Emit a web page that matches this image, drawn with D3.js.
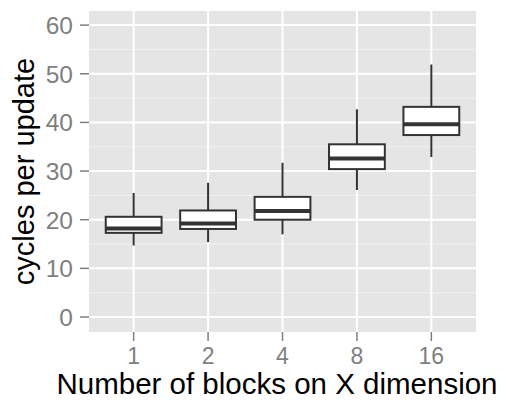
<!DOCTYPE html>
<html><head><meta charset="utf-8">
<script src="https://cdn.jsdelivr.net/npm/d3@7"></script>
<style>body{margin:0;background:#fff}svg{display:block}text{font-family:"Liberation Sans",Arial,sans-serif}</style>
</head><body><svg id="c" width="507" height="400"></svg>
<script>
const categories = ["1","2","4","8","16"];
const whiskerLow = [14.7, 15.4, 17.0, 26.1, 32.9];
const q1 = [17.3, 18.1, 20.0, 30.4, 37.4];
const median = [18.2, 19.2, 21.8, 32.6, 39.6];
const q3 = [20.6, 21.9, 24.7, 35.5, 43.2];
const whiskerHigh = [25.5, 27.6, 31.7, 42.7, 51.9];
const yTicks = [0, 10, 20, 30, 40, 50, 60];
const yMinor = [5, 15, 25, 35, 45, 55];
const xTitle = "Number of blocks on X dimension";
const yTitle = "cycles per update";

const svg = d3.select("#c");
const L = 89, R = 476, T = 11, B = 332;
// ggplot discrete expansion: 0.6 units each side
const x = d3.scalePoint().domain(categories).range([L, R]).padding(0.6);
const step = x.step();
const xc = c => x(c);
const y = d3.scaleLinear().domain([-3.08, 62.9]).range([B, T]);

svg.append("rect").attr("x", L).attr("y", T).attr("width", R - L).attr("height", B - T).attr("fill", "#e5e5e5");
const g = svg.append("g");
g.selectAll(".minor").data(yMinor).join("line")
  .attr("x1", L).attr("x2", R).attr("y1", d => y(d)).attr("y2", d => y(d))
  .attr("stroke", "#f2f2f2").attr("stroke-width", 1);
g.selectAll(".majory").data(yTicks).join("line")
  .attr("x1", L).attr("x2", R).attr("y1", d => y(d)).attr("y2", d => y(d))
  .attr("stroke", "#ffffff").attr("stroke-width", 2);
g.selectAll(".majorx").data(categories).join("line")
  .attr("x1", d => xc(d)).attr("x2", d => xc(d)).attr("y1", T).attr("y2", B)
  .attr("stroke", "#ffffff").attr("stroke-width", 2);

const bw = step * 0.75;
const data = categories.map((c, i) => ({c, lo: whiskerLow[i], q1: q1[i], md: median[i], q3: q3[i], hi: whiskerHigh[i]}));
const bx = svg.append("g").selectAll("g").data(data).join("g");
bx.append("line").attr("x1", d => xc(d.c)).attr("x2", d => xc(d.c))
  .attr("y1", d => y(d.hi)).attr("y2", d => y(d.q3)).attr("stroke", "#333333").attr("stroke-width", 2);
bx.append("line").attr("x1", d => xc(d.c)).attr("x2", d => xc(d.c))
  .attr("y1", d => y(d.q1)).attr("y2", d => y(d.lo)).attr("stroke", "#333333").attr("stroke-width", 2);
bx.append("rect").attr("x", d => xc(d.c) - bw / 2).attr("width", bw)
  .attr("y", d => y(d.q3)).attr("height", d => y(d.q1) - y(d.q3))
  .attr("fill", "#ffffff").attr("stroke", "#333333").attr("stroke-width", 2);
bx.append("line").attr("x1", d => xc(d.c) - bw / 2).attr("x2", d => xc(d.c) + bw / 2)
  .attr("y1", d => y(d.md)).attr("y2", d => y(d.md)).attr("stroke", "#333333").attr("stroke-width", 4);

// axes
const ya = svg.append("g");
ya.selectAll("line").data(yTicks).join("line")
  .attr("x1", L - 9).attr("x2", L).attr("y1", d => y(d)).attr("y2", d => y(d))
  .attr("stroke", "#7f7f7f").attr("stroke-width", 1.5);
ya.selectAll("text").data(yTicks).join("text")
  .attr("x", 73).attr("y", d => y(d)).attr("dy", "0.36em").attr("text-anchor", "end")
  .attr("fill", "#7f7f7f").attr("font-size", 24.5).text(d => d);
const xa = svg.append("g");
xa.selectAll("line").data(categories).join("line")
  .attr("x1", d => xc(d)).attr("x2", d => xc(d)).attr("y1", B).attr("y2", B + 9)
  .attr("stroke", "#7f7f7f").attr("stroke-width", 1.5);
xa.selectAll("text").data(categories).join("text")
  .attr("x", d => xc(d)).attr("y", 364).attr("text-anchor", "middle")
  .attr("fill", "#7f7f7f").attr("font-size", 23).text(d => d);

svg.append("text").attr("x", 277).attr("y", 394).attr("text-anchor", "middle")
  .attr("fill", "#000").attr("font-size", 29.5).text(xTitle);
svg.append("text").attr("transform", `translate(34,${(T + B) / 2}) rotate(-90)`).attr("text-anchor", "middle")
  .attr("fill", "#000").attr("font-size", 29).text(yTitle);
</script></body></html>
